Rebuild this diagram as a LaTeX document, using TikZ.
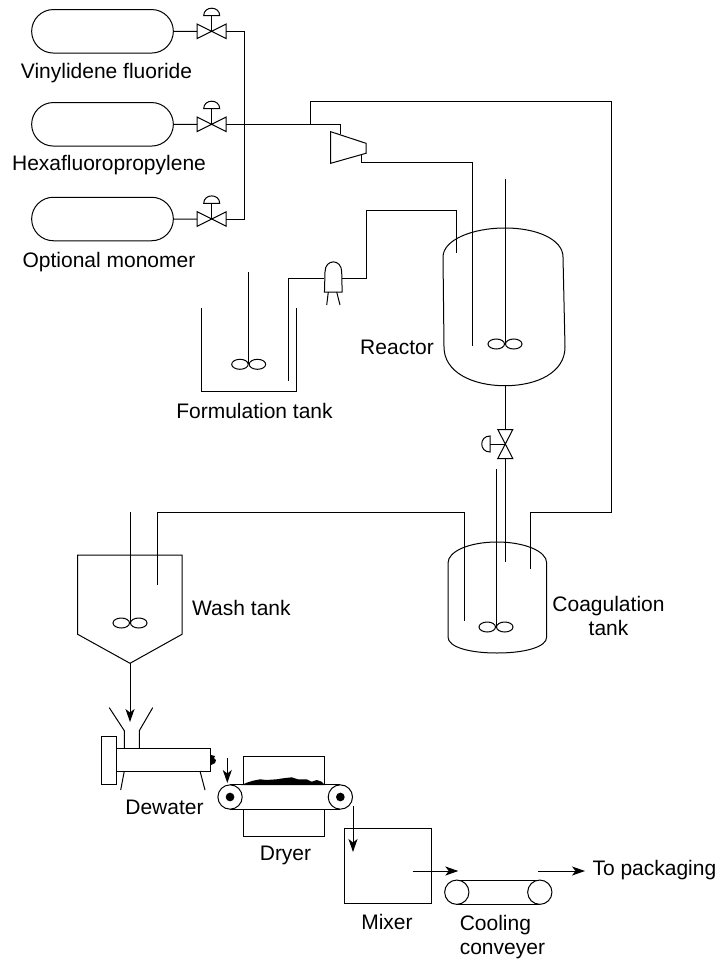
\documentclass[tikz,border=0pt]{standalone}
\usepackage{fontspec}
\setmainfont{Liberation Sans}
\usetikzlibrary{shapes.geometric, shapes.misc, arrows.meta, positioning, calc}

\begin{document}
\begin{tikzpicture}[x=1pt, y=-1pt, line width=1pt, >={Stealth[length=13pt,width=9pt,inset=3.5pt]}]
    \tikzset{
        label/.style={font=\fontsize{21}{24.5}\selectfont, inner sep=0pt, align=left},
        bottle/.style={rounded rectangle, draw, minimum width=141.7pt, minimum height=43.5pt, inner sep=0pt},
        valveh/.style={minimum width=28pt, minimum height=13.5pt, inner sep=0pt},
        valvev/.style={minimum width=14pt, minimum height=28pt, inner sep=0pt},
        box/.style={rectangle, draw, inner sep=0pt},
        belt/.style={rectangle, draw, fill=white, inner sep=0pt, minimum height=24.3pt},
        pulley/.style={circle, draw, fill=white, inner sep=0pt, minimum size=24.3pt},
        hub/.style={circle, fill=black, inner sep=0pt, minimum size=8.7pt},
        blade/.style={ellipse, draw, inner sep=0pt, minimum width=16.5pt, minimum height=10pt},
        line/.style={draw},
        flow/.style={draw, ->, shorten >=0pt}
    }
    \useasboundingbox (0,0) rectangle (717,960);

    % gas bottles and their valves
    \node (Vdf) [bottle] at (102.5,31.3) {};
    \node (Hfp) [bottle] at (102.5,124.3) {};
    \node (Opt) [bottle] at (102.5,219) {};
    \node (VdfText) [label] at (106.5,73.5) {Vinylidene fluoride};
    \node (HfpText) [label] at (109,165.5) {Hexafluoropropylene};
    \node (OptText) [label] at (109,262) {Optional monomer};

    \node (V1) [valveh] at (211.7,31.3) {};
    \node (V2) [valveh] at (211.7,124.3) {};
    \node (V3) [valveh] at (211.7,219) {};
    \foreach \v in {V1,V2,V3} {
        \draw (\v.north west) -- (\v.south east) -- (\v.north east) -- (\v.south west) -- cycle;
        \draw (\v.center) -- ++(0,-15.6);
        \draw ($(\v.center)+(-8,-15.6)$) .. controls +(0,-10) and +(0,-10) .. ++(16,0) -- cycle;
    }
    \path [line] (Vdf) -- (V1);
    \path [line] (Hfp) -- (V2);
    \path [line] (Opt) -- (V3);

    % gas header and compressor
    \coordinate (HeadTop) at (244,31.3);
    \coordinate (HeadBot) at (244,219);
    \coordinate (Tee) at (310.5,124.3);
    \coordinate (CompIn) at (340,124.3);
    \coordinate (CompOut) at (361.5,154.5);
    \coordinate (ReacGas) at (472,345.7);
    \path [line] (V1) -- (HeadTop) -- (HeadBot) -- (V3);
    \path [line] (V2) -- (Tee) -- (CompIn) -- (340,134.5);
    \draw (330.7,131.7) -- (366,143.3) -- (366,153.3) -- (330.7,163.3) -- cycle;
    \path [line] (CompOut) -- (361.5,162.5) -- (472,162.5) -- (ReacGas);

    % recycle line to coagulation tank
    \coordinate (CoagIn) at (530,569);
    \path [line] (Tee) -- (310.5,101.5) -- (611,101.5) -- (611,512.5) -- (530,512.5) -- (CoagIn);

    % formulation tank
    \coordinate (Hub1) at (248.7,364.3);
    \draw (201,308.3) -- (201,391.7) -- (296.7,391.7) -- (296.7,308.3);
    \node (Form) [label] at (254.5,411) {Formulation tank};
    \coordinate (FormDip) at (288.3,381);
    \draw (248.7,272.3) -- (Hub1);

    % metering pump
    \node (Pump) [minimum width=16.7pt, minimum height=26pt, inner sep=0pt] at (333.3,278.7) {};
    \draw (Pump.south west) -- (325,272) .. controls (325,258.5) and (341.7,258.5) .. (341.7,272) -- (Pump.south east) -- cycle;
    \draw (328.3,292) -- (326.7,305);
    \draw (336.7,292) -- (340,305);
    \path [line] (FormDip) -- (288.3,278.7) -- (Pump.west);
    \coordinate (ReacFeed) at (456,253);
    \path [line] (Pump.east) -- (366,278.7) -- (366,210) -- (456,210) -- (ReacFeed);

    % reactor
    \coordinate (Hub2) at (505,344);
    \draw (443,257) .. controls (443,240) and (472,228) .. (505,228)
        .. controls (538,228) and (563,240) .. (563,257)
        -- (565,347) .. controls (565,372) and (538,385.7) .. (505,385.7)
        .. controls (472,385.7) and (444,372) .. (444,347) -- cycle;
    \draw (505,179) -- (Hub2);
    \node (Reac) [label] at (397,347) {Reactor};

    % discharge valve
    \node (V4) [valvev] at (505.3,444) {};
    \draw (V4.north west) -- (V4.south east) -- (V4.south west) -- (V4.north east) -- cycle;
    \draw (V4.center) -- (490,444);
    \draw (490,436) .. controls (479,436) and (479,452) .. (490,452) -- cycle;
    \path [line] (505.3,385.7) -- (V4);
    \coordinate (CoagDrop) at (505.3,562);
    \path [line] (V4) -- (CoagDrop);

    % coagulation tank
    \coordinate (Hub3) at (496,627);
    \draw (448,563) .. controls (448,551) and (470,542) .. (497,542)
        .. controls (524,542) and (546.7,551) .. (546.7,563)
        -- (546.7,637) .. controls (546.7,647) and (525,653) .. (497,653)
        .. controls (469,653) and (448,647) .. (448,637) -- cycle;
    \draw (496,469) -- (Hub3);
    \node (Coag) [label, align=center] at (608.5,616) {Coagulation\\tank};

    % wash tank
    \coordinate (Hub4) at (130,623);
    \coordinate (WashOut) at (130,663.3);
    \coordinate (WashIn) at (157,585);
    \coordinate (CoagOut) at (464,621);
    \draw (77.7,555) -- (182,555) -- (182,634.3) -- (WashOut) -- (77.7,634.3) -- cycle;
    \draw (130,512) -- (Hub4);
    \path [line] (CoagOut) -- (464,512.5) -- (157,512.5) -- (WashIn);
    \node (Wash) [label, anchor=west] at (191.7,608) {Wash tank};

    % impellers
    \foreach \h in {Hub1,Hub2,Hub3,Hub4} {
        \node (\h L) [blade, anchor=east] at (\h) {};
        \node (\h R) [blade, anchor=west] at (\h) {};
    }

    % dewatering screw
    \node (Barrel) [box, minimum width=94.7pt, minimum height=22.7pt] at (163.4,759.7) {};
    \node (Flange) [box, minimum width=15pt, minimum height=47.3pt] at (108.5,760.4) {};
    \draw (109.3,707.7) -- (124.3,730.7) -- (124.3,748.3);
    \draw (152.7,707.7) -- (139.3,730.7) -- (139.3,748.3);
    \draw (124.3,771) -- (120.7,790);
    \draw (200,771) -- (205,790);
    \fill (211,755) -- (215,756) -- (214,758) -- (216,760) -- (215,763) -- (211,765) -- cycle;
    \coordinate (HopIn) at (130,722);
    \path [flow] (WashOut) -- (HopIn);
    \node (Dew) [label] at (164.5,807) {Dewater};

    % dryer and its belt
    \node (Dryer) [box, minimum width=81pt, minimum height=79.3pt] at (284.2,796.4) {};
    \node (Belt1) [belt, minimum width=109.3pt] at (285.2,797) {};
    \fill (241.7,785) -- (246.7,782.7) -- (253,780.7) -- (260,779.3) -- (266.7,780) -- (276.7,779.3)
        -- (283,778.3) -- (291.7,777.3) -- (298,779.3) -- (306.7,779.3) -- (311.7,781.7) -- (316.7,780)
        -- (321.7,781.7) -- (325,785) -- cycle;
    \node (Pul1) [pulley] at (Belt1.west) {};
    \node (Pul2) [pulley] at (Belt1.east) {};
    \node (Hub5) [hub] at (Pul1) {};
    \node (Hub6) [hub] at (Pul2) {};
    \coordinate (DryIn) at (227.3,758);
    \coordinate (DryDrop) at (227.3,783);
    \path [flow] (DryIn) -- (DryDrop);
    \node (Dry) [label] at (285.5,855) {Dryer};

    % mixer
    \node (Mix) [box, minimum width=87pt, minimum height=75pt] at (387.8,865.8) {};
    \node (MixText) [label] at (387,922) {Mixer};
    \coordinate (MixIn) at (353,806);
    \coordinate (MixDrop) at (353,852);
    \coordinate (MixOut) at (412.7,871);
    \coordinate (CoolIn) at (458.3,871);
    \path [flow] (MixIn) -- (MixDrop);
    \path [flow] (MixOut) -- (CoolIn);

    % cooling conveyer
    \node (Belt2) [belt, minimum width=82pt] at (498.3,892.2) {};
    \node (Pul3) [pulley] at (Belt2.west) {};
    \node (Pul4) [pulley] at (Belt2.east) {};
    \node (Cool) [label, anchor=north west] at (459.3,914.5) {Cooling\\conveyer};

    \coordinate (CoolOut) at (538.3,871);
    \node (Pack) [label, anchor=west] at (592,870) {To packaging};
    \path [flow] (CoolOut) -- (585,871);
\end{tikzpicture}
\end{document}
